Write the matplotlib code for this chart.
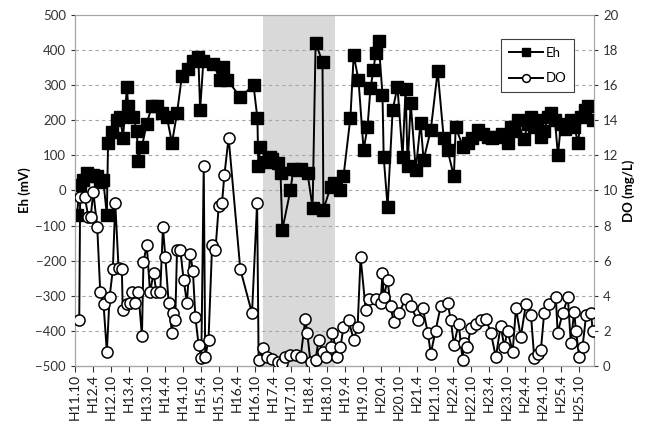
import matplotlib
matplotlib.use("Agg")
import matplotlib.pyplot as plt

plt.rcParams['font.family'] = ['Lato', 'DejaVu Sans']

# x positions are months counted from H11.10
eh_month = [0.6, 1.7, 2.8, 3.9, 5.0, 6.1, 7.2, 8.3, 9.4, 10.6, 11.0, 12.3, 13.9, 15.0,
            16.0, 17.3, 17.7, 19.4, 20.6, 21.0, 22.3, 23.9, 25.6, 27.3, 29.0, 30.6, 32.3,
            34.0, 35.6, 37.7, 39.4, 41.1, 41.7, 42.8, 46.1, 48.4, 49.4, 50.8, 55.1, 59.5,
            60.8, 61.1, 61.8, 63.8, 65.1, 65.8, 67.5, 68.5, 69.1, 71.8, 72.8, 74.1, 75.2,
            77.5, 79.2, 80.2, 82.5, 82.8, 85.2, 86.5, 88.5, 89.5, 91.8, 92.9, 94.5, 96.2,
            97.5, 98.5, 99.5, 100.2, 101.2, 102.5, 102.9, 104.2, 105.9, 107.5, 109.2,
            110.2, 110.9, 111.9, 113.6, 115.2, 116.2, 118.6, 120.9, 122.9, 124.2, 126.3,
            126.9, 129.3, 130.9, 132.5, 134.3, 136.0, 137.6, 139.0, 141.0, 142.5, 144.3,
            145.3, 146.5, 147.6, 149.6, 151.0, 152.0, 153.0, 154.0, 155.3, 156.5, 157.6,
            158.6, 160.0, 161.0, 162.0, 163.5, 165.3, 166.5, 167.7, 168.7, 170.0, 171.0,
            172.7]
eh_mv = [-70, 15, 30, 50, 40, 45, 40, 25, 30, -70, 135, 165, 200, 210,
         150, 295, 240, 210, 170, 85, 125, 190, 240, 240, 220, 210, 135,
         220, 325, 345, 370, 380, 230, 370, 360, 315, 352, 315, 265, 300,
         205, 70, 125, 80, 95, 90, 78, 50, -112, 0, 60, 58, 60,
         50, -50, 420, 366, -55, 10, 20, 0, 40, 207, 385, 315, 115,
         180, 292, 343, 390, 425, 272, 95, -47, 230, 295, 95,
         290, 70, 250, 58, 193, 87, 172, 340, 150, 115, 40,
         180, 125, 135, 150, 172, 160, 152, 150, 152, 160, 135,
         180, 170, 200, 145, 190, 210, 180, 200, 152, 170, 210,
         220, 200, 100, 190, 175, 200, 180, 135, 210, 230, 240,
         200]

do_month = [1.4, 1.7, 3.3, 4.4, 5.2, 6.1, 7.4, 8.4, 9.5, 10.6, 11.5, 12.6, 13.4, 14.5,
            15.6, 15.9, 17.3, 18.4, 18.9, 20.0, 21.1, 22.3, 22.8, 23.9, 25.0, 26.2, 27.1,
            28.4, 29.3, 30.1, 31.2, 32.3, 32.8, 33.4, 34.0, 35.1, 36.2, 37.3, 38.4, 39.3,
            40.1, 41.2, 42.1, 42.9, 43.4, 44.5, 45.7, 46.8, 47.9, 49.0, 49.8, 51.2, 55.1,
            59.0, 60.7, 61.2, 62.8, 64.1, 65.8, 67.5, 69.1, 70.1, 71.8, 73.5, 75.2, 76.8,
            77.4, 78.5, 80.2, 81.2, 82.5, 83.5, 85.2, 85.8, 87.5, 88.5, 89.5, 91.2, 92.9,
            94.2, 95.2, 96.9, 97.9, 100.2, 101.9, 102.5, 102.9, 104.2, 105.2, 106.2, 107.9,
            110.2, 111.9, 114.2, 115.9, 117.6, 118.6, 120.2, 121.9, 124.2, 125.3, 126.3,
            127.9, 129.2, 129.7, 130.8, 131.9, 133.6, 135.3, 136.9, 138.6, 140.3, 141.9,
            143.1, 144.2, 145.9, 147.0, 148.6, 150.3, 152.0, 153.1, 154.2, 155.3, 156.4,
            158.1, 160.3, 160.9, 162.6, 164.3, 165.3, 166.4, 167.0, 168.1, 169.2, 170.4,
            172.0, 172.6]
do_mgl = [2.6, 9.6, 9.6, 8.5, 8.5, 9.9, 7.9, 4.2, 3.5, 0.8, 3.9, 5.5, 9.3, 5.6,
          5.5, 3.2, 3.5, 3.6, 4.2, 3.6, 4.2, 1.7, 5.9, 6.9, 4.2, 5.3, 4.2,
          4.2, 7.9, 6.2, 3.6, 1.9, 3.0, 2.6, 6.6, 6.6, 4.9, 3.6, 6.4, 5.4,
          2.8, 1.2, 0.45, 11.4, 0.5, 1.5, 6.9, 6.6, 9.1, 9.3, 10.9, 13.0, 5.5,
          3.0, 9.3, 0.35, 1.0, 0.5, 0.4, 0.2, 0.15, 0.5, 0.6, 0.6, 0.5, 2.7,
          1.9, 0.2, 0.35, 1.5, 0.8, 0.5, 1.1, 1.9, 0.5, 1.1, 2.2, 2.6, 1.5,
          2.2, 6.2, 3.2, 3.8, 3.8, 3.6, 5.3, 3.9, 4.9, 3.4, 2.5, 3.0,
          3.8, 3.4, 2.6, 3.3, 1.9, 0.7, 2.0, 3.4, 3.6, 2.6, 1.2,
          2.4, 0.35, 1.3, 1.1, 2.15, 2.4, 2.6, 2.7, 1.9, 0.5, 2.3,
          1.1, 2.0, 0.8, 3.3, 1.65, 3.5, 2.9, 0.45, 0.7, 0.9, 3.0,
          3.5, 3.9, 1.9, 3.0, 3.9, 1.3, 3.1, 2.0, 0.5, 1.1, 2.9,
          3.0, 2.0]

tick_labels = ['H11.10']
for yr in range(12, 26):
    tick_labels += ['H%d.4' % yr, 'H%d.10' % yr]
tick_pos = [6 * i for i in range(len(tick_labels))]

shade_start, shade_end = 62.5, 86.8

fig = plt.figure(figsize=(6.47, 4.25), dpi=100)
ax = fig.add_axes([0.116, 0.139, 0.802, 0.826])
ax2 = ax.twinx()

ax.axvspan(shade_start, shade_end, color='#d9d9d9', zorder=0, lw=0)
ax.plot(eh_month, eh_mv, color='black', lw=1.4, marker='s', ms=8,
        mfc='black', mec='black', label='Eh', zorder=3)
ax2.plot(do_month, do_mgl, color='black', lw=1.4, marker='o', ms=8,
         mfc='white', mec='black', mew=1.1, label='DO', zorder=3)

ax.set_xlim(0, 173)
ax.set_ylim(-500, 500)
ax.set_yticks(range(-500, 501, 100))
ax2.set_ylim(0, 20)
ax2.set_yticks(range(0, 21, 2))
ax.set_xticks(tick_pos)
ax.set_xticklabels(tick_labels, rotation=90)

for y in range(-400, 500, 100):
    ax.axhline(y, color='#a6a6a6', ls=(0, (3, 3)), lw=0.8, zorder=1)

for a in (ax, ax2):
    a.tick_params(labelsize=9.5, colors='#333333', length=3)
    for s in a.spines.values():
        s.set_color('#a6a6a6')
ax.spines['left'].set_color('#808080')
ax.spines['bottom'].set_color('#404040')
ax.tick_params(axis='x', length=4, direction='out', pad=2, labelsize=10, labelcolor='#1a1a1a')

ax.set_ylabel('Eh (mV)', fontsize=9.5, fontweight='bold', labelpad=3)
ax2.set_ylabel('DO (mg/L)', fontsize=9.5, fontweight='bold', labelpad=3)

h1, l1 = ax.get_legend_handles_labels()
h2, l2 = ax2.get_legend_handles_labels()
leg = ax2.legend(h1 + h2, l1 + l2, loc='upper right', bbox_to_anchor=(0.975, 0.95),
                 fontsize=9.5, fancybox=False, framealpha=1, edgecolor='#404040',
                 handlelength=2.6, markerscale=0.7, borderpad=0.6, labelspacing=1.0,
                 handletextpad=0.2)
leg.get_frame().set_linewidth(0.8)

fig.savefig('out.png', dpi=100)
